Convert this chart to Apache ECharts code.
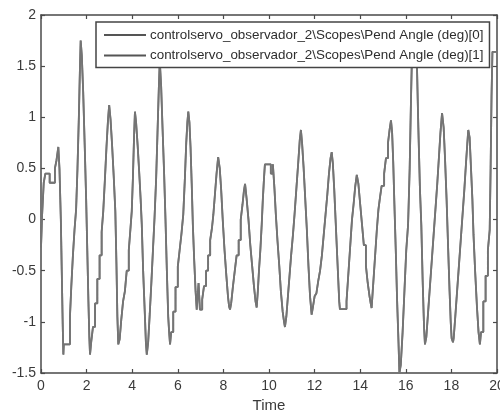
<!DOCTYPE html>
<html>
<head>
<meta charset="utf-8">
<script src="https://cdn.jsdelivr.net/npm/echarts@6/dist/echarts.min.js"></script>
<style>
  html, body { margin: 0; padding: 0; background: #fff; }
  #chart { width: 500px; height: 412px; }
</style>
</head>
<body>
<div id="chart"></div>
<script>
// scope signal: [time (s), angle (deg)] samples
var pendAngle = [
  [0,-0.27],[0.05,0.05],[0.12,0.36],[0.19,0.45],[0.38,0.36],[0.61,0.5],[0.68,0.58],[0.76,0.71],
  [0.81,0.5],[0.87,0.0],[0.91,-0.5],[0.95,-1.0],[0.98,-1.32],[1.0,-1.22],
  [1.27,-0.95],[1.33,-0.65],[1.4,-0.35],[1.47,-0.1],[1.54,0.1],[1.6,0.5],[1.66,1.0],[1.71,1.5],[1.74,1.75],
  [1.79,1.6],[1.85,1.25],[1.92,0.7],[1.98,0.2],[2.03,-0.3],[2.08,-0.8],[2.12,-1.15],[2.15,-1.32],
  [2.2,-1.2],[2.28,-1.05],[2.37,-0.82],[2.47,-0.58],[2.57,-0.35],[2.66,-0.12],[2.73,0.08],[2.8,0.38],[2.87,0.7],[2.94,0.98],[2.99,1.12],
  [3.05,0.98],[3.12,0.72],[3.19,0.42],[3.26,0.08],[3.31,-0.45],[3.35,-0.95],[3.39,-1.22],[3.45,-1.17],
  [3.52,-0.98],[3.6,-0.8],[3.68,-0.7],[3.76,-0.5],[3.85,-0.3],[3.92,-0.1],[3.98,0.08],[4.03,0.4],[4.08,0.8],[4.12,1.055],
  [4.17,0.95],[4.24,0.72],[4.31,0.45],[4.37,0.2],[4.42,-0.05],[4.48,-0.5],[4.55,-0.9],[4.6,-1.2],[4.64,-1.32],
  [4.7,-1.2],[4.77,-0.92],[4.84,-0.62],[4.91,-0.3],[4.98,0.02],[5.05,0.4],[5.11,0.85],[5.17,1.3],[5.21,1.55],
  [5.27,1.3],[5.33,0.9],[5.4,0.45],[5.46,0.0],[5.52,-0.5],[5.58,-0.95],[5.62,-1.1],[5.66,-1.22],[5.71,-1.1],
  [5.8,-0.9],[5.9,-0.66],[6.0,-0.46],[6.08,-0.3],[6.16,-0.14],[6.24,0.05],[6.31,0.4],[6.37,0.75],[6.42,0.95],[6.46,1.055],
  [6.51,0.95],[6.56,0.7],[6.61,0.35],[6.66,-0.05],[6.72,-0.4],[6.78,-0.7],[6.83,-0.88],[6.91,-0.62],[6.97,-0.88],[7.07,-0.78],
  [7.15,-0.65],[7.24,-0.5],[7.33,-0.35],[7.42,-0.2],[7.5,-0.08],[7.56,0.05],[7.63,0.25],[7.7,0.45],[7.77,0.61],
  [7.84,0.5],[7.9,0.3],[7.97,0.0],[8.05,-0.3],[8.13,-0.55],[8.2,-0.75],[8.25,-0.85],[8.29,-0.88],[8.34,-0.82],
  [8.42,-0.65],[8.5,-0.5],[8.58,-0.35],[8.67,-0.2],[8.76,0.0],[8.84,0.15],[8.9,0.28],[8.95,0.35],
  [9.02,0.2],[9.1,0.0],[9.18,-0.25],[9.26,-0.45],[9.34,-0.65],[9.41,-0.8],[9.46,-0.86],
  [9.51,-0.7],[9.56,-0.5],[9.62,-0.3],[9.68,-0.05],[9.73,0.2],[9.78,0.4],[9.82,0.54],[10.08,0.45],[10.17,0.54],
  [10.24,0.3],[10.3,0.05],[10.37,-0.2],[10.45,-0.45],[10.52,-0.7],[10.6,-0.9],[10.66,-1.0],[10.7,-1.05],[10.76,-0.95],
  [10.83,-0.75],[10.9,-0.55],[10.97,-0.35],[11.05,-0.15],[11.12,0.05],[11.2,0.3],[11.28,0.55],[11.35,0.78],[11.4,0.876],
  [11.45,0.75],[11.52,0.5],[11.59,0.2],[11.66,-0.1],[11.73,-0.45],[11.8,-0.75],[11.87,-0.93],[11.93,-0.85],
  [12.0,-0.75],[12.08,-0.72],[12.16,-0.6],[12.24,-0.5],[12.32,-0.35],[12.4,-0.15],[12.48,0.05],[12.56,0.25],[12.63,0.45],[12.7,0.6],[12.75,0.66],
  [12.8,0.55],[12.86,0.3],[12.92,0.0],[12.98,-0.3],[13.04,-0.6],[13.08,-0.8],[13.11,-0.875],[13.4,-0.8],
  [13.46,-0.6],[13.52,-0.4],[13.58,-0.2],[13.64,0.0],[13.71,0.15],[13.78,0.32],[13.85,0.436],
  [13.92,0.35],[14.0,0.15],[14.08,-0.05],[14.16,-0.25],[14.25,-0.45],[14.33,-0.62],[14.41,-0.75],[14.46,-0.82],[14.5,-0.865],
  [14.55,-0.7],[14.61,-0.5],[14.67,-0.3],[14.73,-0.1],[14.8,0.1],[14.87,0.22],[14.94,0.33],[15.05,0.45],[15.13,0.6],[15.22,0.75],[15.29,0.88],[15.35,0.97],
  [15.4,0.85],[15.45,0.55],[15.5,0.15],[15.56,-0.3],[15.62,-0.8],[15.68,-1.2],[15.72,-1.5],[15.78,-1.42],
  [15.86,-1.1],[15.94,-0.7],[16.02,-0.3],[16.1,-0.05],[16.17,0.5],[16.23,1.2],[16.28,1.7],[16.36,1.85],
  [16.49,1.5],[16.55,0.9],[16.62,0.3],[16.68,-0.05],[16.74,-0.6],[16.8,-1.05],[16.84,-1.22],[16.9,-1.15],
  [16.98,-0.9],[17.06,-0.65],[17.14,-0.4],[17.22,-0.15],[17.3,0.1],[17.38,0.35],[17.45,0.6],[17.52,0.85],[17.59,1.04],
  [17.66,0.9],[17.72,0.6],[17.79,0.19],[17.86,-0.3],[17.92,-0.7],[17.97,-1.0],[18.01,-1.16],[18.07,-1.2],[18.1,-1.16],
  [18.17,-0.95],[18.25,-0.7],[18.33,-0.45],[18.41,-0.2],[18.49,0.05],[18.57,0.3],[18.64,0.55],[18.7,0.75],[18.74,0.876],
  [18.8,0.8],[18.86,0.5],[18.92,0.2],[18.97,-0.15],[19.04,-0.5],[19.12,-0.85],[19.19,-1.1],[19.25,-1.22],[19.3,-1.1],
  [19.4,-0.8],[19.5,-0.55],[19.6,-0.3],[19.68,-0.1],[19.72,0.5],[19.76,1.2],[19.8,1.64],[20,1.64]
];
// channel [1] lies on top of channel [0] in the scope plot
var pendAngleObs = pendAngle;

var seriesNames = [
  'controlservo_observador_2\\Scopes\\Pend Angle (deg)[0]',
  'controlservo_observador_2\\Scopes\\Pend Angle (deg)[1]'
];
var xTicks = { min: 0, max: 20, step: 2 };
var yTicks = { min: -1.5, max: 2, step: 0.5 };

var axisGray = '#4a4a4a';
var labelStyle = { color: '#3a3a3a', fontSize: 14, fontFamily: 'Liberation Sans, Arial, sans-serif' };

var chart = echarts.init(document.getElementById('chart'), null, { renderer: 'canvas' });

function boxAxis(pos, isX) {
  var t = isX ? xTicks : yTicks;
  return {
    type: 'value',
    position: pos,
    min: t.min, max: t.max, interval: t.step,
    splitLine: { show: false },
    axisLine: { show: true, onZero: false, lineStyle: { color: axisGray, width: 1.5 } },
    axisTick: { show: true, inside: true, length: 4, lineStyle: { color: axisGray, width: 1.2 } },
    axisLabel: { show: false }
  };
}

var xMain = boxAxis('bottom', true);
xMain.axisLabel = Object.assign({ show: true, margin: 6 }, labelStyle);
xMain.name = 'Time';
xMain.nameLocation = 'middle';
xMain.nameGap = 23;
xMain.nameTextStyle = { color: '#3a3a3a', fontSize: 15, fontFamily: 'Liberation Sans, Arial, sans-serif' };

var yMain = boxAxis('left', false);
yMain.axisLabel = Object.assign({ show: true, margin: 5 }, labelStyle);

var option = {
  animation: false,
  backgroundColor: '#fff',
  grid: { left: 41, right: 3, top: 15, bottom: 39, outerBoundsMode: 'none' },
  legend: {
    orient: 'vertical',
    left: 96, top: 22,
    padding: [5, 6, 4, 8],
    itemGap: 4.5,
    itemWidth: 42,
    itemHeight: 2,
    icon: 'rect',
    backgroundColor: '#fff',
    borderColor: '#444',
    borderWidth: 1.5,
    borderRadius: 0,
    textStyle: { color: '#2e2e2e', fontSize: 13.4, lineHeight: 16, fontFamily: 'Liberation Sans, Arial, sans-serif', padding: [0, 0, 0, -1] },
    data: seriesNames
  },
  xAxis: [xMain, boxAxis('top', true)],
  yAxis: [yMain, boxAxis('right', false)],
  series: [
    {
      name: seriesNames[0], type: 'line', step: 'end', symbol: 'none',
      data: pendAngle,
      lineStyle: { color: '#747474', width: 1.8 }, itemStyle: { color: '#555' }
    },
    {
      name: seriesNames[1], type: 'line', step: 'end', symbol: 'none',
      data: pendAngleObs,
      lineStyle: { color: '#747474', width: 1.8 }, itemStyle: { color: '#555' }
    }
  ]
};

chart.setOption(option);
</script>
</body>
</html>
